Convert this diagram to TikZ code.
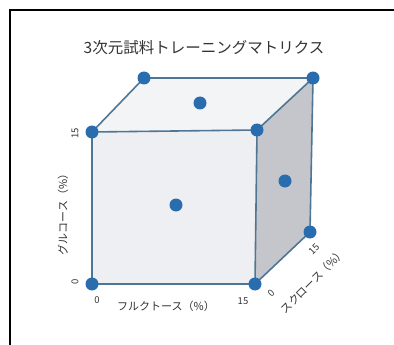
\documentclass[tikz,border=0pt]{standalone}
\usepackage{fontspec}
\setmainfont{Noto Sans CJK JP}
\usepackage{tikz}
\definecolor{edgeblue}{HTML}{4F7694}
\definecolor{dotblue}{HTML}{2A6DAF}
\definecolor{faceA}{HTML}{F3F4F6}
\definecolor{faceB}{HTML}{EEEFF2}
\definecolor{faceC}{HTML}{C5C6CB}
\definecolor{textgray}{HTML}{333333}

\begin{document}
\begin{tikzpicture}[x=1pt, y=-1pt, every node/.style={font=\fontsize{11}{12}\selectfont, inner sep=0pt, text=textgray},
	dot/.style={circle, fill=dotblue, minimum size=13pt},
	edge/.style={edgeblue, line width=1.6pt, line join=round},
	num/.style={font=\fontsize{9.5}{10}\selectfont}]
	\useasboundingbox (0,0) rectangle (394,345);
	\draw[line width=1.6pt] (10,345) -- (10,10) -- (394,10);
	\node (title) at (204,48) {\fontsize{15.5}{16}\selectfont 3次元試料トレーニングマトリクス};
	% cube corners (fructose, glucose, sucrose)
	\coordinate (v000) at (92,284);
	\coordinate (v100) at (255,284);
	\coordinate (v010) at (92,132);
	\coordinate (v110) at (257,130);
	\coordinate (v011) at (144,78);
	\coordinate (v111) at (313,78);
	\coordinate (v101) at (310,232);
	\fill[faceA] (v010) -- (v011) -- (v111) -- (v110) -- cycle;
	\fill[faceB] (v000) -- (v100) -- (v110) -- (v010) -- cycle;
	\fill[faceC] (v110) -- (v111) -- (v101) -- (v100) -- cycle;
	\draw[edge] (v000) -- (v100) -- (v110) -- (v010) -- cycle;
	\draw[edge] (v010) -- (v011) -- (v111) -- (v110);
	\draw[edge] (v111) -- (v101) -- (v100);
	\foreach \v in {v000,v100,v010,v110,v011,v111,v101}
		\node[dot] at (\v) {};
	\node[dot] (ctop) at (200,103) {};
	\node[dot] (cfront) at (176,205) {};
	\node[dot] (cright) at (285,181) {};
	% axes
	\node[num, rotate=90] (g15) at (75,133) {15};
	\node[num, rotate=90] (g0) at (75,282) {0};
	\node[rotate=90] (glabel) at (63,212) {グルコース（\%）};
	\node[num] (f0) at (97,300) {0};
	\node (flabel) at (166,306) {フルクトース（\%）};
	\node[num] (f15) at (243,301) {15};
	\node[num, rotate=45] (s0) at (271,293) {0};
	\node[num, rotate=45] (s15) at (314,249) {15};
	\node[rotate=45] (slabel) at (313,281) {スクロース（\%）};
\end{tikzpicture}
\end{document}
